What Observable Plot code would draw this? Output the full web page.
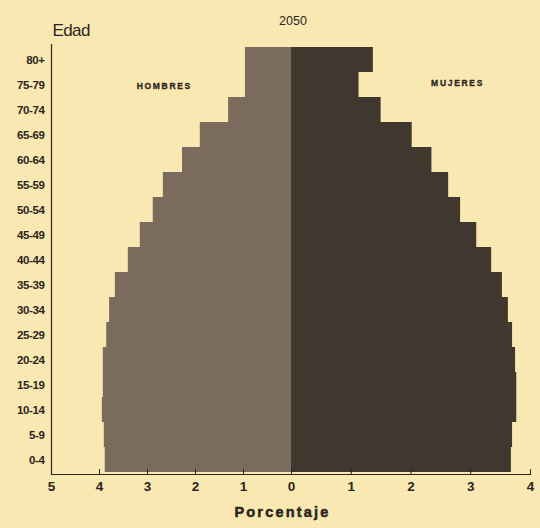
<!DOCTYPE html>
<html>
<head>
<meta charset="utf-8">
<script src="https://cdn.jsdelivr.net/npm/d3@7"></script>
<script src="https://cdn.jsdelivr.net/npm/@observablehq/plot@0.6"></script>
<style>
  html, body { margin: 0; padding: 0; background: #f9e8b2; }
  #chart { position: relative; width: 540px; height: 528px; background: #f9e8b2; overflow: hidden; }
  #chart svg { position: absolute; top: 0; overflow: visible; }
  .sexlabel text { letter-spacing: 1.7px; }
  .edad text { letter-spacing: -0.6px; }
  .xtitle text { letter-spacing: 2.2px; }
  .ylab text { letter-spacing: -0.4px; }
</style>
</head>
<body>
<div id="chart"></div>
<script>
const ages = ["0-4","5-9","10-14","15-19","20-24","25-29","30-34","35-39","40-44","45-49","50-54","55-59","60-64","65-69","70-74","75-79","80+"];
const men   = [3.88, 3.90, 3.94, 3.92, 3.92, 3.85, 3.79, 3.67, 3.40, 3.15, 2.88, 2.67, 2.27, 1.90, 1.31, 0.96, 0.96];
const women = [3.68, 3.70, 3.77, 3.77, 3.75, 3.70, 3.63, 3.53, 3.35, 3.10, 2.83, 2.63, 2.35, 2.02, 1.50, 1.13, 1.37];
const menTicks = [5, 4, 3, 2, 1, 0];
const womenTicks = [1, 2, 3, 4];
const sexLabels = ["HOMBRES", "MUJERES"];
const sexLabelX = [2.65, 2.78];
const title = "2050";
const yTitle = "Edad";
const xTitle = "Porcentaje";

const menRows = ages.map((a, i) => ({age: a, value: men[i]}));
const womenRows = ages.map((a, i) => ({age: a, value: women[i]}));

const ink = "#2b2520";
const common = {
  height: 528,
  marginTop: 44,
  marginBottom: 54,
  style: {background: "transparent", fontFamily: "'Liberation Sans', Arial, sans-serif", color: ink, overflow: "visible"},
  y: {domain: ages.slice().reverse(), padding: 0, label: null}
};

const left = Plot.plot({
  ...common,
  width: 291,
  marginLeft: 51,
  marginRight: 0,
  x: {domain: [0, 5], reverse: true, label: null},
  marks: [
    Plot.barX(menRows, {x: "value", y: "age", fill: "#7a6b5c"}),
    Plot.ruleX([5], {stroke: ink, strokeWidth: 1.2}),
    Plot.frame({anchor: "bottom", stroke: ink, strokeWidth: 1.2}),
    Plot.axisX({ticks: menTicks, tickFormat: d => d, tickSize: -5, tickPadding: 12, fontSize: 13.5, fontWeight: "bold", stroke: ink}),
    Plot.axisY({tickSize: 0, tickPadding: 7, fontSize: 11.5, fontWeight: "bold", className: "ylab"}),
    Plot.text([sexLabels[0]], {x: sexLabelX[0], y: ["75-79"], fontSize: 8.5, fontWeight: "bold", fill: ink, stroke: ink, strokeWidth: 0.3, dy: 1, className: "sexlabel"}),
    Plot.text([title], {frameAnchor: "top-right", textAnchor: "middle", dx: 1.5, dy: -28, fontSize: 12.5, fill: ink}),
    Plot.text([yTitle], {frameAnchor: "top-left", textAnchor: "start", dx: 1, dy: -21, fontSize: 17, fill: ink, className: "edad"}),
    Plot.text([xTitle], {frameAnchor: "bottom-right", textAnchor: "middle", dx: -9, dy: 42, fontSize: 14.5, fontWeight: "bold", fill: ink, stroke: ink, strokeWidth: 0.5, className: "xtitle"})
  ]
});

const right = Plot.plot({
  ...common,
  width: 249,
  marginLeft: 0,
  marginRight: 10,
  x: {domain: [0, 4], label: null},
  marks: [
    Plot.barX(womenRows, {x: "value", y: "age", fill: "#40372f"}),
    Plot.frame({anchor: "bottom", stroke: ink, strokeWidth: 1.2}),
    Plot.axisX({ticks: womenTicks, tickFormat: d => d, tickSize: -5, tickPadding: 12, fontSize: 13.5, fontWeight: "bold", stroke: ink}),
    Plot.text([sexLabels[1]], {x: sexLabelX[1], y: ["75-79"], fontSize: 8.5, fontWeight: "bold", fill: ink, stroke: ink, strokeWidth: 0.3, dy: -2, className: "sexlabel"})
  ]
});
left.style.left = "0px";
right.style.left = "291px";
const host = document.getElementById("chart");
host.appendChild(right);
host.appendChild(left);
</script>
</body>
</html>
